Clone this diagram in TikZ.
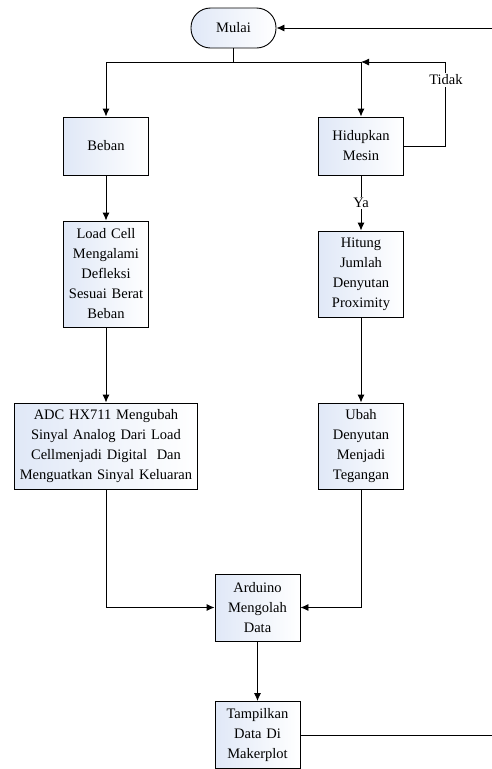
\documentclass[tikz,border=0pt]{standalone}
\usepackage{fontspec}
\setmainfont{Liberation Serif}
\usetikzlibrary{arrows.meta}
\definecolor{boxblue}{RGB}{224,232,247}
\begin{document}
\begin{tikzpicture}[x=1pt,y=-1pt,
  font=\fontsize{14.5}{20}\selectfont,
  box/.style={draw, line width=0.9pt, rectangle, inner sep=1pt, align=center,
    left color=boxblue, right color=white},
  term/.style={box, rounded corners=19.5pt},
  conn/.style={line width=0.9pt},
  arr/.style={conn, -{Latex[length=8pt,width=7pt]}},
  lbl/.style={fill=white, inner sep=1.5pt}]
\useasboundingbox (0,0) rectangle (492,769);
\node[term, minimum width=85pt, minimum height=40pt] (mulai) at (233.5,28) {Mulai};
\node[box, minimum width=85pt, minimum height=58pt, text width=83pt] (beban) at (106,146) {Beban};
\node[box, minimum width=85pt, minimum height=58pt, text width=83pt] (hidup) at (361,146) {Hidupkan\\Mesin};
\node[box, minimum width=85pt, minimum height=106pt, text width=83pt] (load) at (106,274) {Load Cell\\Mengalami\\Defleksi\\Sesuai Berat\\Beban};
\node[box, minimum width=85pt, minimum height=86pt, text width=83pt] (hitung) at (361,274) {Hitung\\Jumlah\\Denyutan\\Proximity};
\node[box, minimum width=183pt, minimum height=86pt, text width=181pt] (adc) at (106,446) {ADC HX711 Mengubah\\Sinyal Analog Dari Load\\Cellmenjadi Digital\ \ Dan\\Menguatkan Sinyal Keluaran};
\node[box, minimum width=85pt, minimum height=86pt, text width=83pt] (ubah) at (361,446) {Ubah\\Denyutan\\Menjadi\\Tegangan};
\node[box, minimum width=85pt, minimum height=67pt, text width=83pt] (ard) at (257.5,607.5) {Arduino\\Mengolah\\Data};
\node[box, minimum width=85pt, minimum height=67pt, text width=83pt] (tamp) at (257.5,735) {Tampilkan\\Data Di\\Makerplot};
\coordinate (j1) at (233.5,62);
\coordinate (tc) at (445.5,62);
\coordinate (rtop) at (492,28);
\coordinate (rbot) at (492,735);
\draw[conn] (mulai.south) -- (j1);
\draw[arr] (j1) -| (beban.north);
\draw[arr] (j1) -| (hidup.north);
\draw[arr] (hidup.east) -| (tc) -- (hidup.north |- tc);
\node[lbl] (tidak) at (446,80) {Tidak};
\draw[arr] (hidup.south) -- node[lbl] (ya) {Ya} (hitung.north);
\draw[arr] (beban) -- (load);
\draw[arr] (load) -- (adc);
\draw[arr] (hitung) -- (ubah);
\draw[arr] (adc.south) |- (ard.west);
\draw[arr] (ubah.south) |- (ard.east);
\draw[arr] (ard) -- (tamp);
\draw[conn] (tamp.east) -- (rbot);
\draw[arr] (rtop) -- (mulai.east);
\end{tikzpicture}
\end{document}
